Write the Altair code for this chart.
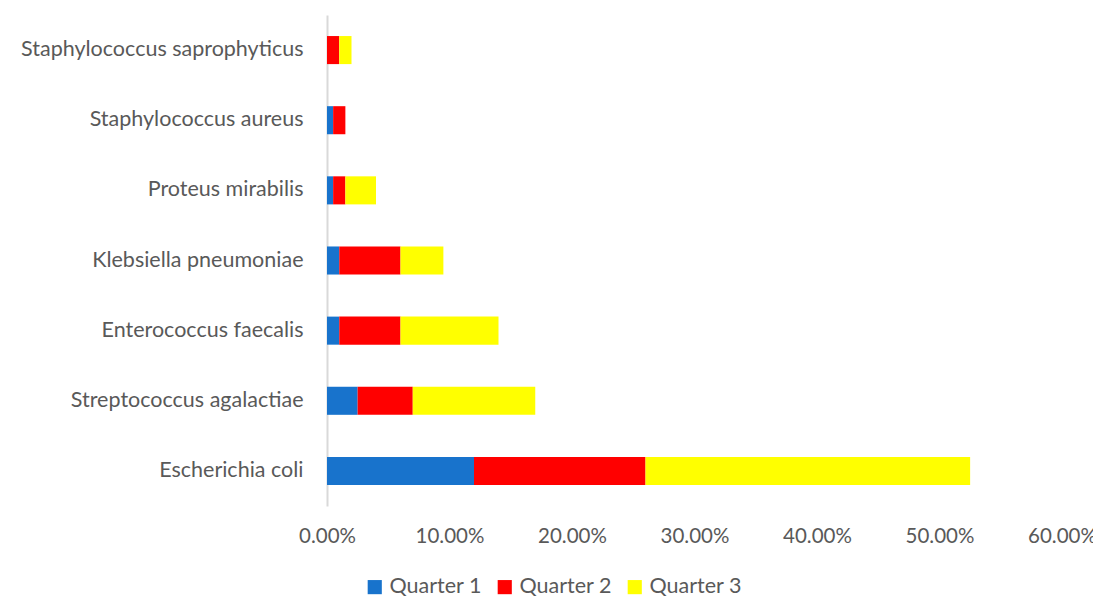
import altair as alt
import pandas as pd

NB = "\u00a0"
organisms = [
    "Staphylococcus saprophyticus",
    "Staphylococcus aureus",
    "Proteus mirabilis" + NB,
    "Klebsiella pneumoniae" + NB,
    "Enterococcus faecalis" + NB,
    "Streptococcus agalactiae",
    "Escherichia coli" + NB,
]
quarters = ["Quarter 1", "Quarter 2", "Quarter 3"]
q1 = [0.000, 0.005, 0.005, 0.010, 0.010, 0.025, 0.120]
q2 = [0.010, 0.010, 0.010, 0.050, 0.050, 0.045, 0.140]
q3 = [0.010, 0.000, 0.025, 0.035, 0.080, 0.100, 0.265]
colors = ["#1873CC", "#FF0000", "#FFFF00"]
x_ticks = [0, 0.1, 0.2, 0.3, 0.4, 0.5, 0.6]

rows = []
for i, org in enumerate(organisms):
    for k, (q, vals) in enumerate(zip(quarters, [q1, q2, q3])):
        rows.append({"Organism": org, "Quarter": q, "order": k, "value": vals[i]})
df = pd.DataFrame(rows)

font = "Lato"
gray = "#595959"
fs = 21.5

chart = alt.Chart(df).mark_bar().encode(
    y=alt.Y("Organism:N", sort=organisms, title=None,
            scale=alt.Scale(paddingInner=0.6, paddingOuter=0.3),
            axis=alt.Axis(domain=True, domainColor="#D9D9D9", domainWidth=2,
                          ticks=False, grid=False, labelPadding=24,
                          labelFontSize=fs, labelColor=gray, labelFont=font,
                          labelLimit=400)),
    x=alt.X("value:Q", stack="zero", title=None,
            scale=alt.Scale(domain=[0, 0.6], nice=False),
            axis=alt.Axis(values=x_ticks, format=".2%", domain=False, ticks=False,
                          grid=False, labelPadding=20, labelFontSize=20.5,
                          labelColor=gray, labelFont=font, labelFlush=False)),
    color=alt.Color("Quarter:N", sort=quarters,
                    scale=alt.Scale(domain=quarters, range=colors),
                    legend=alt.Legend(title=None, orient="none", direction="horizontal",
                                      legendX=37, legendY=561, symbolType="square",
                                      symbolSize=200, symbolStrokeWidth=0,
                                      labelFontSize=fs, labelColor=gray, labelFont=font,
                                      columnPadding=12, labelOffset=4)),
    order=alt.Order("order:Q", sort="ascending"),
).properties(
    width=735, height=491,
    autosize=alt.AutoSizeParams(type="none"),
    padding={"left": 319, "top": 7, "right": 31, "bottom": 90},
).configure_view(stroke=None)

chart.save("out.html", embed_options={"renderer": "svg", "actions": False})
